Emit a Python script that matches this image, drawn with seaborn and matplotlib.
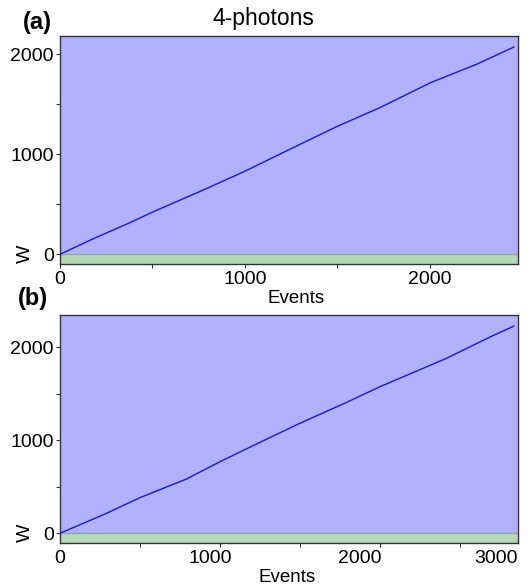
import numpy as np
import pandas as pd
import matplotlib
matplotlib.use("Agg")
import matplotlib.pyplot as plt
import seaborn as sns
from matplotlib.ticker import FixedLocator

# ---- data ----
events_a = [0, 180, 378, 501, 775, 1002, 1261, 1503, 1730, 2004, 2252, 2454]
w_a = [0, 156, 316, 423, 643, 833, 1067, 1283, 1467, 1717, 1900, 2073]
events_b = [0, 300, 533, 844, 1067, 1333, 1600, 1911, 2133, 2578, 2667, 2867, 3027]
w_b = [0, 207, 383, 584, 770, 978, 1183, 1408, 1576, 1882, 1953, 2111, 2229]

xticks_a = [0, 1000, 2000]
xticklabels_a = ["0", "1000", "2000"]
xticks_b = [0, 1000, 2000]
xticklabels_b = ["0", "1000", "2000", "3000"]
yticks = [0, 1000, 2000]
yticklabels = ["0", "1000", "2000"]

title = "4-photons"
panel_labels = ["(a)", "(b)"]
xlabel = "Events"
ylabel = "W"

# ---- styling ----
sns.set_theme(style="white")
plt.rcParams["font.family"] = ["Liberation Sans", "DejaVu Sans"]
plt.rcParams["text.color"] = "black"
plt.rcParams["xtick.color"] = "black"
plt.rcParams["ytick.color"] = "black"
plt.rcParams["axes.labelcolor"] = "black"

BLUE_BG = "#b1b1ff"
GREEN_BG = "#b3dab3"
LINE = "#1414f5"
SPINE = "#333333"

fig = plt.figure(figsize=(5.30, 5.87), dpi=100)
W, H = 530, 587

def px_axes(l, t, r, b):
    return fig.add_axes([l / W, 1 - b / H, (r - l) / W, (b - t) / H])

ax_a = px_axes(60, 36, 518, 264.3)
ax_b = px_axes(60, 315, 518, 543.3)

df_a = pd.DataFrame({"Events": events_a, "W": w_a})
df_b = pd.DataFrame({"Events": events_b, "W": w_b})

setups = [
    (ax_a, df_a, (0, 2476), (-100, 2183), xticks_a, xticklabels_a, 0.515),
    (ax_b, df_b, (0, 3053), (-108, 2347), xticks_b, xticklabels_b, 0.496),
]

for i, (ax, df, xl, yl, xt, xtl, xlab_x) in enumerate(setups):
    ax.axhspan(0, yl[1], color=BLUE_BG, lw=0, zorder=0)
    ax.axhspan(yl[0], 0, color=GREEN_BG, lw=0, zorder=0)
    ax.axhline(0, color="#9a9ab8", lw=0.9, zorder=1)
    sns.lineplot(data=df, x="Events", y="W", ax=ax, color=LINE, lw=1.0, zorder=3)
    ax.set_xlim(*xl)
    ax.set_ylim(*yl)
    for s in ax.spines.values():
        s.set_color(SPINE)
        s.set_linewidth(1.0)
        s.set_visible(True)
    ax.set_yticks(yticks)
    ax.set_yticklabels(yticklabels)
    ax.yaxis.set_minor_locator(FixedLocator([500, 1500]))
    ax.tick_params(axis="y", which="both", direction="out", length=3, width=0.8,
                   color=SPINE, labelcolor="black", labelsize=14, pad=1.5, left=True)
    ax.set_xlabel("")
    ax.set_ylabel("")
    if i == 0:
        ax.set_xticks(xt)
        ax.set_xticklabels(xtl)
        ax.xaxis.set_minor_locator(FixedLocator([500, 1500]))
        ax.tick_params(axis="x", which="both", direction="out", length=3, width=0.8,
                       color=SPINE, labelcolor="black", labelsize=14, pad=1.5, bottom=True)
    else:
        ax.set_xticks(xt + [xl[1]])
        ax.set_xticklabels(xtl)
        ax.get_xticklabels()[-1].set_horizontalalignment("right")
        ax.xaxis.set_minor_locator(FixedLocator([1600 / 3 * k for k in range(1, 6)]))
        ax.tick_params(axis="x", which="major", direction="out", length=0,
                       labelcolor="black", labelsize=14, pad=4.5, bottom=True)
        ax.tick_params(axis="x", which="minor", direction="out", length=3, width=0.8,
                       color=SPINE, bottom=True)
    ax.text(xlab_x, -0.170, xlabel, transform=ax.transAxes, ha="center",
            va="baseline", fontsize=13.5, color="black")
    ax.text(-0.075, 0.047, ylabel, transform=ax.transAxes, ha="center",
            va="center", rotation=90, fontsize=14, color="black")

fig.text(23 / W, 1 - 23 / H, panel_labels[0], fontsize=17, fontweight="bold",
         ha="left", va="center", color="black")
fig.text(18 / W, 1 - 299 / H, panel_labels[1], fontsize=17, fontweight="bold",
         ha="left", va="center", color="black")
fig.text(263 / W, 1 - 25 / H, title, fontsize=16.5, ha="center", va="baseline",
         color="black")

fig.savefig("out.png", dpi=100)
